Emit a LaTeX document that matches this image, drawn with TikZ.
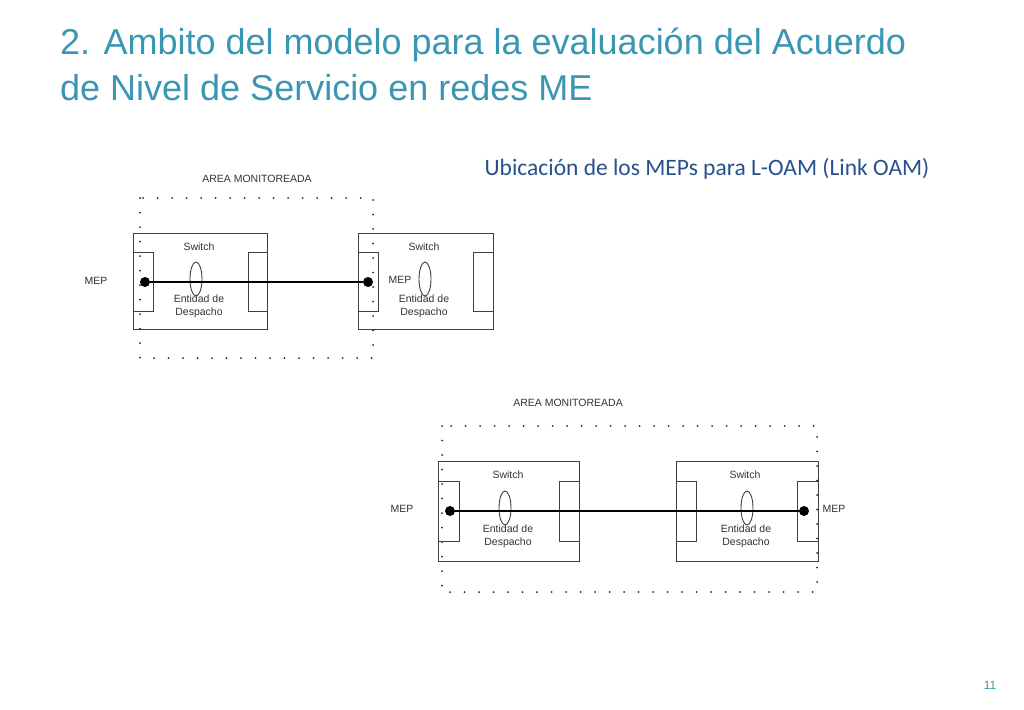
\documentclass[tikz,border=0pt]{standalone}
\usepackage{fontspec}
\usetikzlibrary{shapes.geometric}
\setmainfont{Liberation Sans}
\newfontfamily\carl{Carlito}
\definecolor{ttl}{RGB}{58,150,178}
\definecolor{sub}{RGB}{40,80,140}
\begin{document}
\begin{tikzpicture}[x=1pt,y=-1pt,
  sw/.style={draw=black!75,line width=0.9pt},
  area/.style={draw=black!85,line width=2pt,dash pattern=on 0pt off 14.5pt,line cap=round},
  lnk/.style={line width=2.4pt},
  mep/.style={circle,fill=black,inner sep=0pt,minimum size=10pt},
  ell/.style={ellipse,draw=black!75,line width=0.9pt,minimum width=12pt,minimum height=34pt,inner sep=0pt},
  sm/.style={font=\fontsize{10.5}{13}\selectfont,text=black!80,align=center}]
\useasboundingbox (0,0) rectangle (1024,709);
\fill[white] (0,0) rectangle (1024,709);
\node[anchor=west,text=ttl,font=\fontsize{36}{40}\selectfont,inner sep=0pt] (t1) at (60,45) {2. Ambito del modelo para la evaluación del Acuerdo};
\node[anchor=west,text=ttl,font=\fontsize{36}{40}\selectfont,inner sep=0pt] (t2) at (60,88) {de Nivel de Servicio en redes ME};
\node[text=sub,font=\carl\fontsize{23.5}{26}\selectfont] (st) at (707,169) {Ubicación de los MEPs para L-OAM (Link OAM)};
\node[text=ttl,font=\fontsize{12}{14}\selectfont] (pg) at (990,685) {11};
% top diagram
\node[sm] (a1) at (257,179) {AREA MONITOREADA};
\draw[area] (140,198) rectangle (373,358);
\draw[sw] (133,233) rectangle (267,329);
\draw[sw] (133,252) rectangle (153,311);
\draw[sw] (248,252) rectangle (267,311);
\draw[sw] (358,233) rectangle (493,329);
\draw[sw] (358,252) rectangle (378,311);
\draw[sw] (473,252) rectangle (493,311);
\node[sm] (s1) at (199,247) {Switch};
\node[sm] (s2) at (424,247) {Switch};
\node[sm] (e1t) at (199,306) {Entidad de\\Despacho};
\node[sm] (e2t) at (424,306) {Entidad de\\Despacho};
\node[ell] (e1) at (196,279) {};
\node[ell] (e2) at (425,279) {};
\node[sm] (m1) at (96,281) {MEP};
\node[sm] (m2) at (400,280) {MEP};
\node[mep] (p1) at (145,282) {};
\node[mep] (p2) at (368,282) {};
\draw[lnk] (p1) -- (p2);
% bottom diagram
\node[sm] (a2) at (568,403) {AREA MONITOREADA};
\draw[area] (442,426) rectangle (817,592);
\draw[sw] (438,461) rectangle (579,561);
\draw[sw] (438,481) rectangle (459,541);
\draw[sw] (559,481) rectangle (579,541);
\draw[sw] (676,461) rectangle (818,561);
\draw[sw] (676,481) rectangle (696,541);
\draw[sw] (797,481) rectangle (818,541);
\node[sm] (s3) at (508,475) {Switch};
\node[sm] (s4) at (745,475) {Switch};
\node[sm] (e3t) at (508,536) {Entidad de\\Despacho};
\node[sm] (e4t) at (746,536) {Entidad de\\Despacho};
\node[ell] (e3) at (505,508) {};
\node[ell] (e4) at (747,508) {};
\node[sm] (m3) at (402,509) {MEP};
\node[sm] (m4) at (834,509) {MEP};
\node[mep] (p3) at (450,511) {};
\node[mep] (p4) at (804,511) {};
\draw[lnk] (p3) -- (p4);
\end{tikzpicture}
\end{document}
